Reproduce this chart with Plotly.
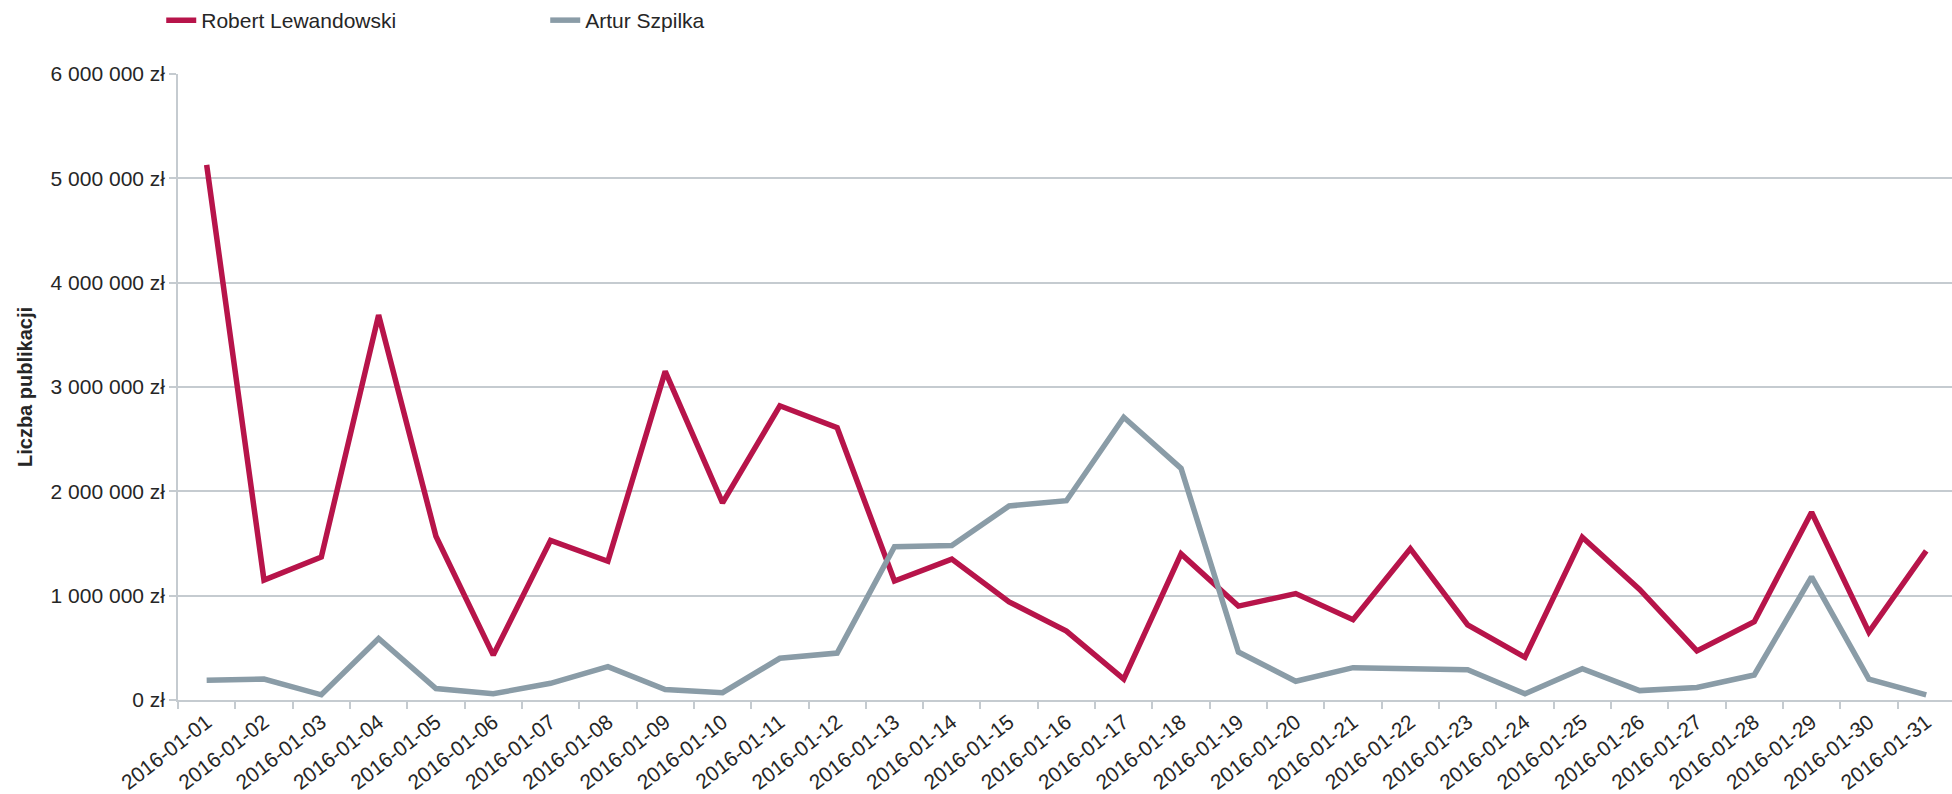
import plotly.graph_objects as go

dates = [f"2016-01-{d:02d}" for d in range(1, 32)]

lewandowski = [5130000, 1150000, 1370000, 3690000, 1570000, 430000, 1530000, 1330000,
               3150000, 1890000, 2820000, 2610000, 1140000, 1350000, 940000, 660000,
               200000, 1400000, 900000, 1020000, 770000, 1450000, 720000, 410000,
               1560000, 1060000, 470000, 750000, 1800000, 650000, 1430000]

szpilka = [190000, 200000, 50000, 590000, 110000, 60000, 160000, 320000,
           100000, 70000, 400000, 450000, 1470000, 1480000, 1860000, 1910000,
           2710000, 2220000, 460000, 180000, 310000, 300000, 290000, 60000,
           300000, 90000, 120000, 240000, 1180000, 200000, 50000]

series_names = ["Robert Lewandowski", "Artur Szpilka"]
series_colors = ["#B7144A", "#8A9CA7"]

y_tickvals = [0, 1000000, 2000000, 3000000, 4000000, 5000000, 6000000]
y_ticktext = ["0 zł", "1 000 000 zł", "2 000 000 zł", "3 000 000 zł",
              "4 000 000 zł", "5 000 000 zł", "6 000 000 zł"]
y_title = "Liczba publikacji"

FONT = "Liberation Sans, Arial, sans-serif"
TEXT = "#262626"
GRID = "#C5CBD0"

fig = go.Figure()
for name, vals, col in zip(series_names, [lewandowski, szpilka], series_colors):
    fig.add_trace(go.Scatter(
        x=dates, y=vals, name=name, mode="lines",
        line=dict(color=col, width=5.5),
    ))

fig.update_layout(
    width=1952, height=794,
    margin=dict(l=178, r=0, t=74, b=91),
    paper_bgcolor="white", plot_bgcolor="white",
    font=dict(family=FONT, size=21, color=TEXT),
    showlegend=True,
    legend=dict(
        orientation="h", xref="container", yref="container",
        x=0.0826, y=1.0, xanchor="left", yanchor="top",
        font=dict(size=21, color=TEXT),
        entrywidth=339, entrywidthmode="pixels",
        bgcolor="rgba(0,0,0,0)",
    ),
    xaxis=dict(
        type="category", range=[-0.5, 30.45],
        showgrid=False, tickson="boundaries",
        ticks="outside", ticklen=7, tickcolor=GRID, tickwidth=1.5,
        showline=True, linecolor=GRID, linewidth=1.5,
        tickangle=-38, tickfont=dict(size=21, color=TEXT),
        zeroline=False,
    ),
    yaxis=dict(
        range=[0, 6000000], tickvals=y_tickvals, ticktext=y_ticktext,
        showgrid=True, gridcolor=GRID, gridwidth=1.5,
        ticks="outside", ticklen=7, tickcolor=GRID, tickwidth=1.5,
        showline=True, linecolor=GRID, linewidth=1.5,
        zeroline=False, tickfont=dict(size=21, color=TEXT),
        title=dict(text="<b>" + y_title + "</b>", font=dict(size=20, color=TEXT), standoff=13),
    ),
)

fig.write_html("out.html", config={"displayModeBar": False},
               post_script="document.body.style.margin='0';document.body.style.overflow='hidden';")
